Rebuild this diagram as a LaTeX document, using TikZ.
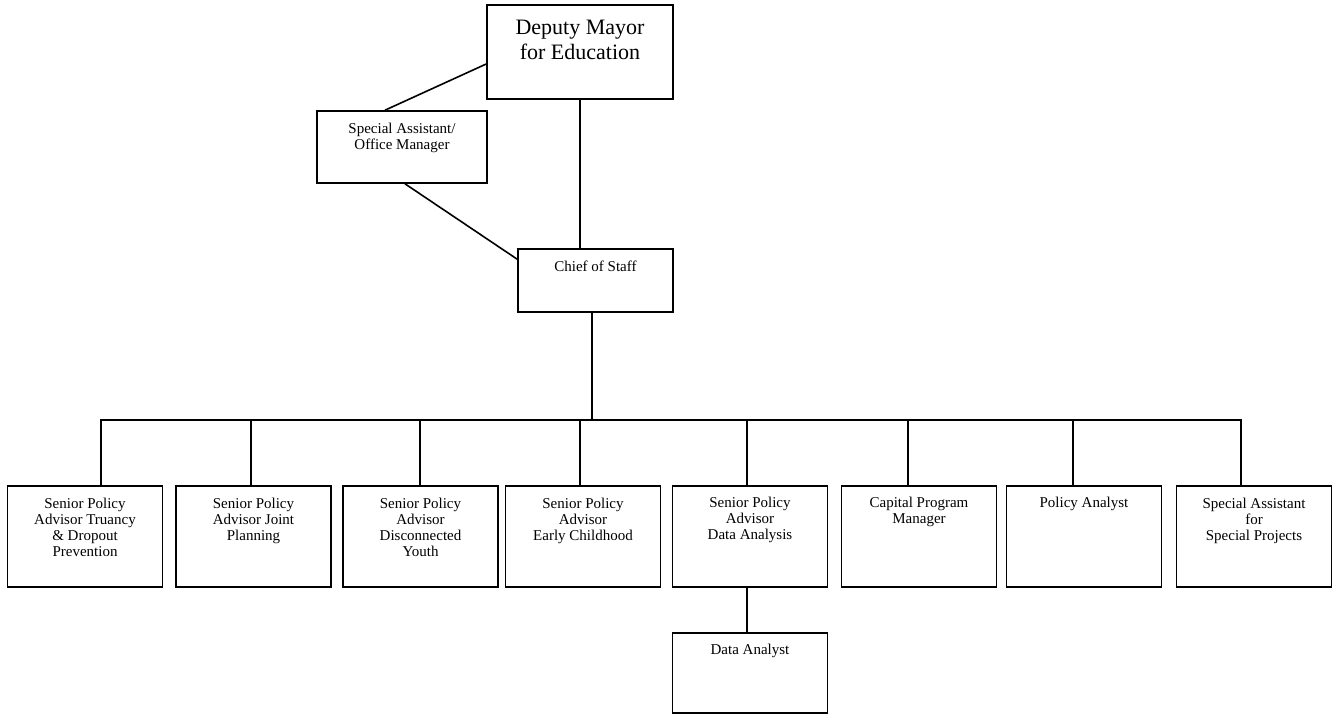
\documentclass[tikz,border=0pt]{standalone}
\usepackage{fontspec}
\setmainfont{Liberation Serif}
\usetikzlibrary{positioning}

\begin{document}
\begin{tikzpicture}
[x=1pt,y=-1pt,
box/.style={draw,line width=1.6pt,minimum width=155pt,minimum height=101pt,inner sep=0pt},
lbl/.style={align=center,inner sep=0pt,font=\fontsize{15}{16}\selectfont},
link/.style={line width=1.6pt}]

\useasboundingbox (0,0) rectangle (1335,715);

% top of the chart
\node[box,minimum width=186pt,minimum height=94pt] (dep) at (580,52) {};
\node[lbl,font=\fontsize{22}{25}\selectfont,below=16pt of dep.north] (dept) {Deputy Mayor\\for Education};
\node[box,minimum width=170pt,minimum height=72pt] (sa) at (402,147) {};
\node[lbl,below=13pt of sa.north] (sat) {Special Assistant/\\Office Manager};
\node[box,minimum height=63pt] (cos) at (595.5,280.5) {};
\node[lbl,below=13pt of cos.north] (cost) {Chief of Staff};

% bottom row
\node[box] (sp1) at (85,536.5) {};
\node[lbl,below=13pt of sp1.north] (sp1t) {Senior Policy\\Advisor Truancy\\\& Dropout\\Prevention};
\node[box] (sp2) at (253.5,536.5) {};
\node[lbl,below=13pt of sp2.north] (sp2t) {Senior Policy\\Advisor Joint\\Planning};
\node[box] (sp3) at (420.5,536.5) {};
\node[lbl,below=13pt of sp3.north] (sp3t) {Senior Policy\\Advisor\\Disconnected\\Youth};
\node[box] (sp4) at (583,536.5) {};
\node[lbl,below=13pt of sp4.north] (sp4t) {Senior Policy\\Advisor\\Early Childhood};
\node[box] (sp5) at (750,536.5) {};
\node[lbl,below=12pt of sp5.north] (sp5t) {Senior Policy\\Advisor\\Data Analysis};
\node[box] (cpm) at (919,536.5) {};
\node[lbl,below=12pt of cpm.north] (cpmt) {Capital Program\\Manager};
\node[box] (pa) at (1084,536.5) {};
\node[lbl,below=12pt of pa.north] (pat) {Policy Analyst};
\node[box] (ssp) at (1254,536.5) {};
\node[lbl,below=13pt of ssp.north] (sspt) {Special Assistant\\for\\Special Projects};
\node[box,minimum height=80pt] (da) at (750,673) {};
\node[lbl,below=12pt of da.north] (dat) {Data Analyst};

% lines
\draw[link] ([yshift=-12pt]dep.west) -- ([xshift=-17pt]sa.north);
\draw[link] ([xshift=3pt]sa.south) -- ([yshift=-11pt]cos.north west);
\draw[link] (dep.south) -- (dep.south |- cos.north);
\coordinate (bus) at (592,420);
\draw[link] (cos.south -| bus) -- (bus);
\draw[link] ([xshift=16pt]sp1.north) |- ([xshift=-13pt]ssp.north |- bus) -- ([xshift=-13pt]ssp.north);
\foreach \n/\dx in {sp2/-2.5pt,sp3/-0.5pt,sp4/-3pt,sp5/-3pt,cpm/-11pt,pa/-11pt}
  \draw[link] ([xshift=\dx]\n.north) -- ([xshift=\dx]\n.north |- bus);
\draw[link] ([xshift=-3pt]sp5.south) -- ([xshift=-3pt]da.north);

\end{tikzpicture}
\end{document}
